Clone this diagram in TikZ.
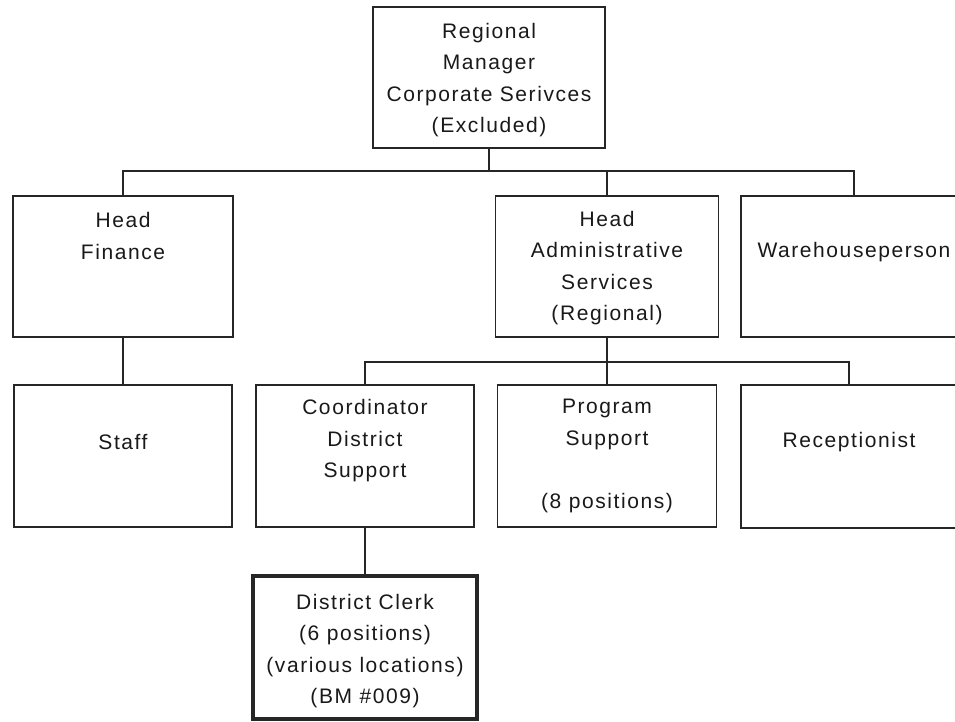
\documentclass[tikz,border=0pt]{standalone}
\usepackage{fontspec}
\setmainfont{Liberation Sans}[LetterSpace=7.5]
\begin{document}
\begin{tikzpicture}[x=1pt,y=-1pt,
  box/.style={draw=black!85,line width=1.8pt,rectangle,inner sep=0pt,outer sep=0pt},
  thickbox/.style={box,line width=4pt},
  lbl/.style={align=center,inner sep=0pt,font={\fontsize{21pt}{31.5pt}\selectfont},text=black!90},
  conn/.style={draw=black!85,line width=1.8pt}]
\path[use as bounding box,clip] (0,0) rectangle (955,721);
\fill[white] (0,0) rectangle (955,721);
% boxes
\node[box,minimum width=232pt,minimum height=141pt] (top) at (489,77.5) {};
\node[box,minimum width=220pt,minimum height=141pt] (hf) at (123,266.5) {};
\node[box,minimum width=223pt,minimum height=141pt] (ha) at (607,266.5) {};
\node[box,minimum width=226pt,minimum height=141pt] (wh) at (854,266.5) {};
\node[box,minimum width=218pt,minimum height=142pt] (st) at (123,456) {};
\node[box,minimum width=218pt,minimum height=142pt] (co) at (365,456) {};
\node[box,minimum width=219pt,minimum height=142pt] (pr) at (607,456) {};
\node[box,minimum width=216pt,minimum height=143pt] (re) at (849,456.5) {};
\node[thickbox,minimum width=224pt,minimum height=142.5pt] (dc) at (365,647.25) {};
% texts
\node[lbl] (ttop) at (489,80) {Regional\\Manager\\Corporate Serivces\\(Excluded)};
\node[lbl] (thf) at (123,236) {Head\\Finance};
\node[lbl] (tha) at (607,268) {Head\\Administrative\\Services\\(Regional)};
\node[lbl] (twh) at (854,252) {Warehouseperson};
\node[lbl] (tst) at (123,442) {Staff};
\node[lbl] (tco) at (365,441) {Coordinator\\District\\Support};
\node[lbl] (tpr) at (607,456) {Program\\Support\\[31.5pt](8 positions)};
\node[lbl] (tre) at (849,442) {Receptionist};
\node[lbl] (tdc) at (365,651) {District Clerk\\(6 positions)\\(various locations)\\(BM \#009)};
% connectors
\coordinate (bus1) at (489,171);
\coordinate (bus2) at (607,362);
\draw[conn] (top.south) -- (top.south |- bus1);
\draw[conn] (hf.north) -- (hf.north |- bus1) -- (wh.north |- bus1) -- (wh.north);
\draw[conn] (ha.north) -- (ha.north |- bus1);
\draw[conn] (ha.south) -- (ha.south |- bus2);
\draw[conn] (co.north) -- (co.north |- bus2) -- (re.north |- bus2) -- (re.north);
\draw[conn] (pr.north) -- (pr.north |- bus2);
\draw[conn] (hf.south) -- (st.north);
\draw[conn] (co.south) -- (dc.north);
\end{tikzpicture}
\end{document}
